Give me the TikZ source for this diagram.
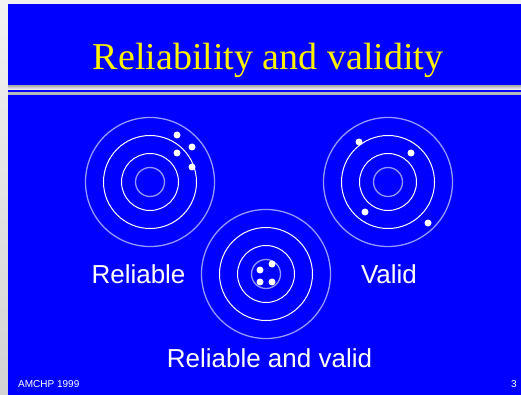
\documentclass[tikz,border=0pt]{standalone}
\usepackage{fontspec}
\setmainfont{Liberation Serif}
\setsansfont{Liberation Sans}
\begin{document}
\begin{tikzpicture}[x=1pt,y=-1pt,
  ringA/.style={circle,draw={rgb,255:red,150;green,150;blue,255},line width=1.3pt,inner sep=0pt},
  ringB/.style={circle,draw=white,line width=1pt,inner sep=0pt},
  shot/.style={circle,fill=white,inner sep=0pt,minimum size=7pt},
  label/.style={text=white,font=\sffamily\fontsize{26}{30}\selectfont,inner sep=0pt,anchor=base},
  foot/.style={text=white,font=\sffamily\fontsize{10}{12}\selectfont,inner sep=0pt,anchor=base}]
\useasboundingbox (0,0) rectangle (521,395);
% frame
\fill[gray!12] (0,0) rectangle (521,395);
\shade[top color=gray!10,bottom color=gray!35] (0,0) rectangle (8,395);
\fill[blue] (8,4) rectangle (521,395);
% title rules
\shade[top color=gray!55,bottom color=white] (8,86) rectangle (521,90);
\fill[gray!55] (8,92.5) rectangle (521,95);
% title
\node[text=yellow,font=\fontsize{38}{42}\selectfont,inner sep=0pt,anchor=base] (title) at (268,70) {Reliability and validity};
% targets
\foreach \n/\cx/\cy in {L/150/182, R/388/182, B/266/274}{
  \node[ringA,minimum size=129pt] (\n4) at (\cx,\cy) {};
  \node[ringB,minimum size=93pt] (\n3) at (\cx,\cy) {};
  \node[ringB,minimum size=57pt] (\n2) at (\cx,\cy) {};
  \node[ringA,minimum size=29pt] (\n1) at (\cx,\cy) {};
}
% shots
\node[shot] (l1) at (177,135) {};
\node[shot] (l2) at (192,147) {};
\node[shot] (l3) at (177,153) {};
\node[shot] (l4) at (192,167) {};
\node[shot] (r1) at (359,142) {};
\node[shot] (r2) at (411,153) {};
\node[shot] (r3) at (365,212) {};
\node[shot] (r4) at (428,223) {};
\node[shot] (b1) at (272,264) {};
\node[shot] (b2) at (260,270) {};
\node[shot] (b3) at (260,282) {};
\node[shot] (b4) at (272,282) {};
% labels
\node[label] (rel) at (138.5,283) {Reliable};
\node[label] (val) at (389,283) {Valid};
\node[label] (both) at (269.5,367) {Reliable and valid};
\node[foot,anchor=base west] (org) at (18,387) {AMCHP 1999};
\node[foot,anchor=base east] (page) at (517,387) {3};
\end{tikzpicture}
\end{document}
